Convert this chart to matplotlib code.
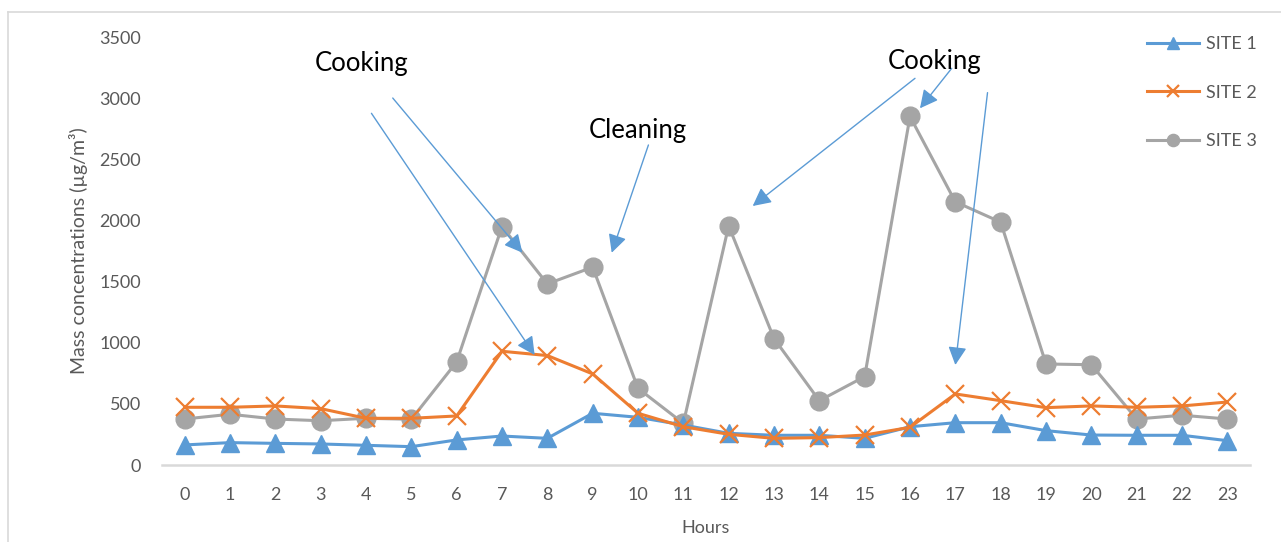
import matplotlib
matplotlib.use("Agg")
import matplotlib.pyplot as plt
from matplotlib.lines import Line2D

plt.rcParams['font.family'] = ['Lato', 'DejaVu Sans']

hours = list(range(24))
hour_labels = [str(h) for h in hours]
site1 = [164, 183, 177, 172, 161, 150, 205, 237, 218, 423, 390, 327, 259, 243,
         243, 218, 313, 346, 346, 281, 245, 243, 243, 199]
site2 = [472, 472, 483, 461, 382, 382, 401, 930, 895, 745, 423, 313, 251, 218,
         224, 245, 308, 581, 526, 469, 483, 472, 483, 515]
site3 = [376, 415, 376, 362, 382, 374, 843, 1950, 1481, 1618, 627, 341, 1956, 1034,
         526, 723, 2850, 2152, 1986, 826, 820, 376, 407, 376]
series_names = ["SITE 1", "SITE 2", "SITE 3"]
yticks = [0, 500, 1000, 1500, 2000, 2500, 3000, 3500]

# annotations: (text, x, y baseline)
labels = [("Cooking", 3.91, 3224), ("Cleaning", 9.99, 2677), ("Cooking", 16.54, 3236)]
# arrows: (start x, start y, tip x, tip y)
arrows = [(4.59, 3001, 7.45, 1736),
          (4.12, 2876, 7.72, 900),
          (10.23, 2617, 9.42, 1736),
          (16.11, 3162, 12.53, 2118),
          (16.92, 3244, 16.22, 2917),
          (17.71, 3045, 17.00, 818)]

BLUE = "#5B9BD5"
ORANGE = "#ED7D31"
GRAY = "#A5A5A5"
TXT = "#595959"

W, H = 1281, 542
fig = plt.figure(figsize=(W / 100, H / 100), dpi=100)
ax = fig.add_axes([162 / W, 1 - 465 / H, (1250 - 162) / W, (465 - 37) / H])

# chart border (light gray)
fig.add_artist(Line2D([7.5 / W, 7.5 / W], [0, 1 - 12 / H], color="#D9D9D9", lw=1.2,
                      transform=fig.transFigure))
fig.add_artist(Line2D([7.5 / W, 1], [1 - 12 / H, 1 - 12 / H], color="#D9D9D9", lw=1.2,
                      transform=fig.transFigure))

lw = 2.2
ax.plot(hours, site1, color=BLUE, lw=lw, marker='^', ms=13.5, mfc=BLUE, mec=BLUE,
        label=series_names[0], zorder=3)
ax.plot(hours, site2, color=ORANGE, lw=lw, marker='x', ms=13, mew=1.6, mec=ORANGE,
        label=series_names[1], zorder=4)
ax.plot(hours, site3, color=GRAY, lw=lw, marker='o', ms=13.5, mfc=GRAY, mec=GRAY,
        label=series_names[2], zorder=2)

ax.set_xlim(-0.5, 23.5)
ax.set_ylim(0, 3500)
ax.set_xticks(hours)
ax.set_xticklabels(hour_labels)
ax.set_yticks(yticks)
ax.set_yticklabels([str(v) for v in yticks])
ax.tick_params(axis='both', length=0, labelsize=13, labelcolor=TXT)
ax.tick_params(axis='y', pad=15)
ax.tick_params(axis='x', pad=16)
for s in ['top', 'right', 'left']:
    ax.spines[s].set_visible(False)
ax.spines['bottom'].set_color("#D9D9D9")
ax.spines['bottom'].set_linewidth(1.8)
ax.spines['bottom'].set_zorder(1)

ax.set_xlabel("Hours", fontsize=13, color=TXT, labelpad=12)
ax.set_ylabel("Mass concentrations (µg/m³)", fontsize=14, color=TXT, labelpad=8)

for t, x, y in labels:
    ax.text(x, y, t, fontsize=18.5, color="black", ha='center', va='baseline', zorder=6)

for x0, y0, x1, y1 in arrows:
    ax.annotate("", xy=(x1, y1), xytext=(x0, y0),
                arrowprops=dict(arrowstyle="-|>,head_length=0.55,head_width=0.28",
                                color=BLUE, lw=1.0, shrinkA=0, shrinkB=0,
                                mutation_scale=20), zorder=5)

leg = ax.legend(loc='upper left', bbox_to_anchor=(1147 / W, 1 - 36 / H),
                bbox_transform=fig.transFigure, frameon=False, fontsize=13,
                handlelength=2.9, handletextpad=0.35, labelspacing=1.8,
                markerscale=0.65, borderpad=0, borderaxespad=0)
for t in leg.get_texts():
    t.set_color(TXT)

fig.savefig("out.png", dpi=100)
